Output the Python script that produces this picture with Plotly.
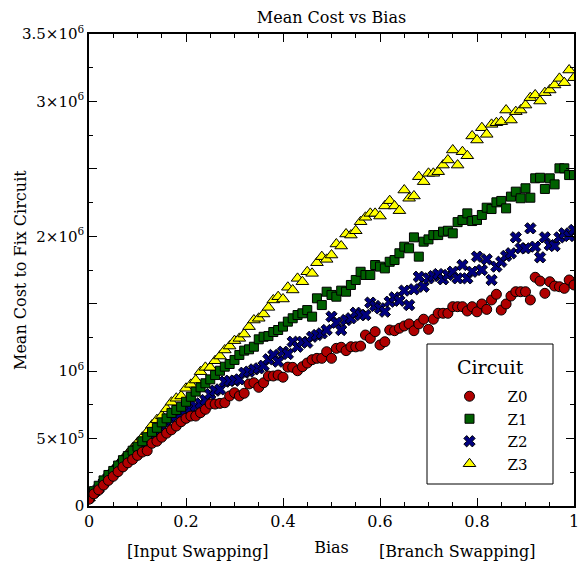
import plotly.graph_objects as go

# ---------------- data (cost in millions) ----------------
bias = [0.00, 0.01, 0.02, 0.03, 0.04, 0.05, 0.06, 0.07, 0.08, 0.09,
        0.10, 0.11, 0.12, 0.13, 0.14, 0.15, 0.16, 0.17, 0.18, 0.19,
        0.20, 0.21, 0.22, 0.23, 0.24, 0.25, 0.26, 0.27, 0.28, 0.29,
        0.30, 0.31, 0.32, 0.33, 0.34, 0.35, 0.36, 0.37, 0.38, 0.39,
        0.40, 0.41, 0.42, 0.43, 0.44, 0.45, 0.46, 0.47, 0.48, 0.49,
        0.50, 0.51, 0.52, 0.53, 0.54, 0.55, 0.56, 0.57, 0.58, 0.59,
        0.60, 0.61, 0.62, 0.63, 0.64, 0.65, 0.66, 0.67, 0.68, 0.69,
        0.70, 0.71, 0.72, 0.73, 0.74, 0.75, 0.76, 0.77, 0.78, 0.79,
        0.80, 0.81, 0.82, 0.83, 0.84, 0.85, 0.86, 0.87, 0.88, 0.89,
        0.90, 0.91, 0.92, 0.93, 0.94, 0.95, 0.96, 0.97, 0.98, 0.99,
        1.00]

cost_z0 = [0.05, 0.09, 0.12, 0.155, 0.19, 0.22, 0.255, 0.29, 0.32, 0.345,
           0.375, 0.40, 0.41, 0.465, 0.48, 0.51, 0.54, 0.565, 0.593, 0.625,
           0.65, 0.667, 0.667, 0.692, 0.717, 0.756, 0.756, 0.761, 0.766, 0.816,
           0.84, 0.816, 0.836, 0.905, 0.914, 0.88, 0.914, 0.964, 0.964, 0.971,
           0.955, 1.03, 1.028, 1.003, 1.033, 1.06, 1.085, 1.095, 1.095, 1.144,
           1.095, 1.169, 1.177, 1.152, 1.181, 1.18, 1.186, 1.268, 1.243, 1.293,
           1.194, 1.218, 1.305, 1.30, 1.318, 1.335, 1.35, 1.30, 1.35, 1.385,
           1.31, 1.385, 1.429, 1.429, 1.429, 1.478, 1.478, 1.478, 1.446, 1.478,
           1.44, 1.498, 1.458, 1.528, 1.57, 1.453, 1.498, 1.557, 1.589, 1.589,
           1.589, 1.528, 1.696, 1.668, 1.577, 1.663, 1.631, 1.626, 1.614, 1.676,
           1.639]

cost_z1 = [0.07, 0.11, 0.15, 0.19, 0.23, 0.26, 0.30, 0.34, 0.37, 0.41,
           0.44, 0.48, 0.51, 0.55, 0.58, 0.62, 0.65, 0.69, 0.712, 0.736,
           0.773, 0.81, 0.848, 0.88, 0.91, 0.939, 0.971, 1.003, 1.033, 1.053,
           1.083, 1.12, 1.152, 1.162, 1.181, 1.236, 1.255, 1.26, 1.29, 1.305,
           1.33, 1.367, 1.392, 1.416, 1.429, 1.453, 1.404, 1.54, 1.49, 1.589,
           1.565, 1.552, 1.597, 1.589, 1.639, 1.676, 1.737, 1.713, 1.713, 1.787,
           1.775, 1.762, 1.811, 1.824, 1.874, 1.923, 1.911, 1.992, 1.849, 1.96,
           1.977, 2.009, 2.009, 2.034, 2.041, 2.022, 2.105, 2.121, 2.170, 2.113,
           2.121, 2.158, 2.212, 2.202, 2.252, 2.262, 2.207, 2.294, 2.331, 2.282,
           2.356, 2.286, 2.430, 2.434, 2.351, 2.430, 2.385, 2.504, 2.504, 2.454,
           2.454]

cost_z2 = [0.06, 0.10, 0.13, 0.17, 0.21, 0.24, 0.28, 0.31, 0.35, 0.38,
           0.42, 0.45, 0.48, 0.52, 0.55, 0.58, 0.61, 0.64, 0.667, 0.682,
           0.712, 0.724, 0.741, 0.761, 0.786, 0.83, 0.855, 0.865, 0.922, 0.929,
           0.929, 0.939, 0.988, 0.996, 1.013, 1.021, 1.04, 1.088, 1.12, 1.07,
           1.144, 1.127, 1.218, 1.181, 1.218, 1.211, 1.255, 1.268, 1.28, 1.305,
           1.404, 1.359, 1.305, 1.379, 1.392, 1.433, 1.416, 1.416, 1.508, 1.483,
           1.466, 1.441, 1.515, 1.547, 1.522, 1.597, 1.49, 1.607, 1.70, 1.626,
           1.688, 1.705, 1.72, 1.681, 1.713, 1.737, 1.688, 1.787, 1.688, 1.737,
           1.849, 1.75, 1.829, 1.676, 1.775, 1.811, 1.854, 1.874, 1.992, 1.911,
           1.911, 2.059, 1.923, 1.844, 1.992, 1.935, 1.928, 1.992, 2.022, 2.002,
           2.047]

cost_z3 = [0.06, 0.10, 0.14, 0.19, 0.23, 0.27, 0.31, 0.35, 0.39, 0.43,
           0.47, 0.51, 0.55, 0.60, 0.64, 0.67, 0.72, 0.77, 0.799, 0.816,
           0.873, 0.902, 0.934, 0.996, 1.028, 1.028, 1.077, 1.112, 1.157, 1.186,
           1.226, 1.243, 1.275, 1.33, 1.379, 1.392, 1.424, 1.473, 1.528, 1.552,
           1.535, 1.622, 1.602, 1.688, 1.663, 1.737, 1.725, 1.804, 1.849, 1.829,
           1.861, 1.943, 1.928, 2.017, 2.009, 2.041, 2.108, 2.141, 2.170, 2.170,
           2.150, 2.225, 2.264, 2.225, 2.19, 2.343, 2.282, 2.299, 2.442, 2.405,
           2.467, 2.467, 2.479, 2.528, 2.566, 2.64, 2.528, 2.627, 2.597, 2.744,
           2.714, 2.805, 2.756, 2.830, 2.842, 2.85, 2.936, 2.862, 2.924, 2.936,
           2.973, 3.028, 3.048, 3.003, 3.065, 3.085, 3.122, 3.171, 3.139, 3.233,
           3.176]

x_tick_vals = [0, 0.2, 0.4, 0.6, 0.8, 1.0]
x_tick_text = ["0", "0.2", "0.4", "0.6", "0.8", "1"]
y_tick_vals = [0, 0.5, 1.0, 1.5, 2.0, 2.5, 3.0, 3.5]
y_tick_text = ["0", "5×10<sup>5</sup>", "10<sup>6</sup>", "", "2×10<sup>6</sup>", "",
               "3×10<sup>6</sup>", "3.5×10<sup>6</sup>"]

FONT = "DejaVu Serif"

# page has an 8px body margin: figure is 580x555 so the plot lands where the reference has it
W, H = 580, 555
ML, MT, PW, PH = 81, 26, 485, 472


def px(xp):   # page x (reference pixels) -> paper x
    return (xp - 8 - ML) / PW


def py(yp):   # page y (reference pixels) -> paper y
    return (MT + PH - (yp - 8)) / PH


fig = go.Figure()

# drawn bottom-to-top: Z3, Z2, Z1, Z0 (legend reversed to read Z0..Z3)
series = [
    ("Z3", cost_z3, "triangle-up", "#ffff00", 11),
    ("Z2", cost_z2, "x", "#00007f", 10),
    ("Z1", cost_z1, "square", "#006000", 9),
    ("Z0", cost_z0, "circle", "#b00000", 10),
]
for name, vals, sym, col, sz in series:
    fig.add_trace(go.Scatter(
        x=bias, y=vals, mode="markers", name=name,
        marker=dict(symbol=sym, color=col, size=sz,
                    line=dict(color="black", width=1)),
    ))

axis_common = dict(
    showgrid=False, zeroline=False, showline=True, linecolor="black",
    linewidth=1.6, mirror="ticks", ticks="inside", ticklen=8, tickwidth=1,
    tickcolor="black", automargin=False,
)

fig.update_xaxes(range=[0, 1], tickmode="array", tickvals=x_tick_vals,
                 ticktext=x_tick_text,
                 tickfont=dict(family=FONT, size=16, color="black"),
                 minor=dict(dtick=0.05, ticks="inside", ticklen=4,
                            tickcolor="black", tickwidth=1),
                 title=dict(text="Bias", font=dict(family=FONT, size=16, color="black"),
                            standoff=12),
                 **axis_common)
fig.update_yaxes(range=[0, 3.5], tickmode="array", tickvals=y_tick_vals,
                 ticktext=y_tick_text,
                 tickfont=dict(family=FONT, size=15, color="black"),
                 minor=dict(dtick=0.25, ticks="inside", ticklen=4,
                            tickcolor="black", tickwidth=1),
                 **axis_common)

fig.update_layout(
    width=W, height=H,
    margin=dict(l=ML, r=W - ML - PW, t=MT, b=H - MT - PH),
    paper_bgcolor="white", plot_bgcolor="white",
    font=dict(family=FONT, color="black"),
    title=dict(text="Mean Cost vs Bias", x=0.5, xref="paper", xanchor="center",
               y=1 - (17 - 8) / H, yref="container", yanchor="middle",
               font=dict(family=FONT, size=16, color="black")),
    showlegend=True,
    legend=dict(
        traceorder="reversed",
        x=px(431.5), y=py(380), xanchor="left", yanchor="top",
        bgcolor="rgba(0,0,0,0)", borderwidth=0,
        font=dict(family=FONT, size=15, color="black"),
        itemwidth=66,
    ),
    shapes=[
        dict(type="rect", xref="paper", yref="paper",
             x0=px(427), x1=px(553), y0=py(484), y1=py(344),
             line=dict(color="black", width=1), fillcolor="white", layer="above"),
    ],
    annotations=[
        dict(text="Circuit", xref="paper", yref="paper", x=px(490), y=py(367),
             xanchor="center", yanchor="middle", showarrow=False,
             font=dict(family=FONT, size=19, color="black")),
        dict(text="Mean Cost to Fix Circuit", textangle=-90,
             xref="paper", yref="paper", x=px(20), y=0.5,
             xanchor="center", yanchor="middle", showarrow=False,
             font=dict(family=FONT, size=16, color="black")),
        dict(text="[Input Swapping]", xref="paper", yref="paper",
             x=px(198), y=py(551), xanchor="center",
             yanchor="middle", showarrow=False,
             font=dict(family=FONT, size=16, color="black")),
        dict(text="[Branch Swapping]", xref="paper", yref="paper",
             x=px(457), y=py(551), xanchor="center",
             yanchor="middle", showarrow=False,
             font=dict(family=FONT, size=16, color="black")),
    ],
)

fig.write_html("out.html")
